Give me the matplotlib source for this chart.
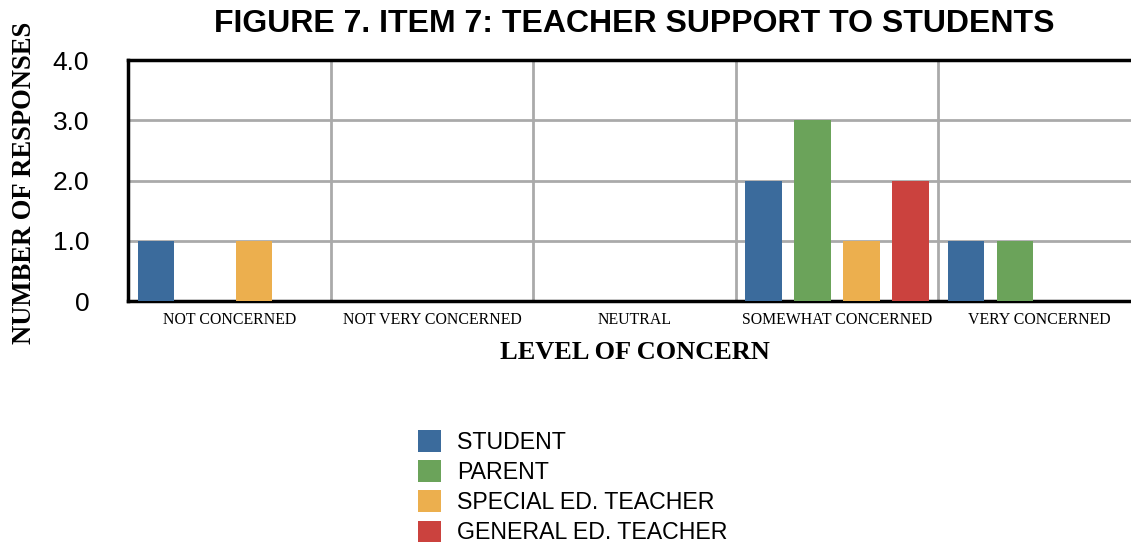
import numpy as np
import matplotlib
matplotlib.use('Agg')
import matplotlib.pyplot as plt
from matplotlib.patches import Patch

# chart data
categories = ['NOT CONCERNED', 'NOT VERY CONCERNED', 'NEUTRAL',
              'SOMEWHAT CONCERNED', 'VERY CONCERNED']
series_names = ['STUDENT', 'PARENT', 'SPECIAL ED. TEACHER', 'GENERAL ED. TEACHER']
student = [1, 0, 0, 2, 1]
parent = [0, 0, 0, 3, 1]
special_ed = [1, 0, 0, 1, 0]
general_ed = [0, 0, 0, 2, 0]
y_ticks = [0, 1, 2, 3, 4]
y_ticklabels = ['0', '1.0', '2.0', '3.0', '4.0']

colors = ['#3b6b9c', '#6ba35a', '#ecaf4e', '#cb423e']

fig = plt.figure(figsize=(11.31, 5.45), dpi=100)
ax = fig.add_axes([0.1132, 0.4477, 0.8956, 0.4422])

x = np.arange(len(categories))
slot = 0.242
width = 0.18
for i, (vals, c) in enumerate(zip([student, parent, special_ed, general_ed], colors)):
    ax.bar(x + (i - 1.5) * slot, vals, width, color=c, zorder=3)

ax.set_xlim(-0.5, len(categories) - 0.5)
ax.set_ylim(0, 4)
ax.set_yticks(y_ticks)
ax.set_yticklabels(y_ticklabels, family='Liberation Sans', fontsize=19)
ax.set_xticks(x)
ax.set_xticklabels(categories, family='Liberation Serif', fontsize=11.4)
ax.tick_params(length=0, pad=8)
ax.tick_params(axis='y', pad=28)

# category dividers + horizontal grid
ax.set_xticks(np.arange(0.5, len(categories) - 0.5), minor=True)
ax.grid(True, which='minor', axis='x', color='#aaaaaa', linewidth=2, zorder=1)
ax.grid(True, which='major', axis='y', color='#aaaaaa', linewidth=2, zorder=1)
ax.tick_params(which='minor', length=0)

for s in ['left', 'bottom', 'top']:
    ax.spines[s].set_linewidth(2.5)
    ax.spines[s].set_color('black')
ax.spines['right'].set_visible(False)

ax.set_xlabel('LEVEL OF CONCERN', family='Liberation Serif', fontweight='bold',
              fontsize=19, labelpad=9)
fig.text(0.0215, 0.664, 'NUMBER OF RESPONSES', family='Liberation Serif', fontweight='bold',
         fontsize=19.2, rotation=90, ha='center', va='center')
fig.text(0.561, 0.956, 'FIGURE 7. ITEM 7: TEACHER SUPPORT TO STUDENTS',
         family='Liberation Sans', fontweight='bold', fontsize=23, ha='center', va='center')

handles = [Patch(facecolor=c, label=n) for c, n in zip(colors, series_names)]
fig.legend(handles=handles, loc='upper left', bbox_to_anchor=(0.3696, 0.211),
           frameon=False, prop={'family': 'Liberation Sans', 'size': 16.7},
           handlelength=1.0, handleheight=1.05, handletextpad=0.7,
           labelspacing=0.28, borderpad=0, borderaxespad=0)

fig.savefig('out.png', dpi=100)
